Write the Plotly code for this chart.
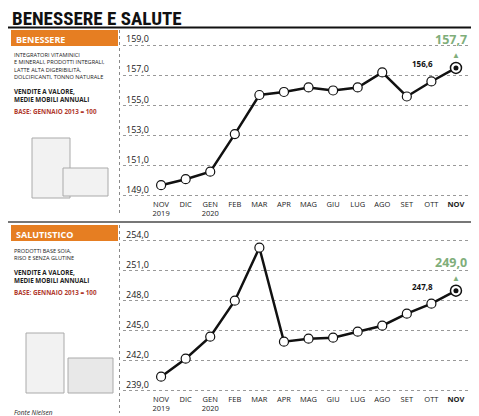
import plotly.graph_objects as go

months = ["NOV", "DIC", "GEN", "FEB", "MAR", "APR", "MAG", "GIU", "LUG", "AGO", "SET", "OTT", "NOV"]
tick_text = ["NOV<br>2019", "DIC", "GEN<br>2020", "FEB", "MAR", "APR", "MAG", "GIU", "LUG", "AGO", "SET", "OTT", "<b>NOV</b>"]
benessere = [149.7, 150.1, 150.6, 153.1, 155.7, 155.9, 156.2, 156.0, 156.2, 157.2, 155.6, 156.6, 157.5]
salutistico = [240.4, 242.2, 244.4, 248.0, 253.3, 243.9, 244.2, 244.3, 244.9, 245.5, 246.7, 247.7, 249.0]
ben_ticks = [149, 151, 153, 155, 157, 159]
sal_ticks = [239, 242, 245, 248, 251, 254]

H, W = 416, 479
def py(px): return 1 - px / H
def pxx(px): return px / W

x = list(range(len(months)))
fig = go.Figure()
for vals, ya in [(benessere, "y"), (salutistico, "y2")]:
    xa = "x" if ya == "y" else "x2"
    fig.add_trace(go.Scatter(x=x, y=vals, xaxis=xa, yaxis=ya, mode="lines+markers",
                             line=dict(color="#111", width=2.5),
                             marker=dict(size=9, color="white", line=dict(color="#111", width=1.2)),
                             hoverinfo="skip"))
    fig.add_trace(go.Scatter(x=[x[-1]], y=[vals[-1]], xaxis=xa, yaxis=ya, mode="markers",
                             marker=dict(size=11, color="white", line=dict(color="#111", width=1.5)),
                             hoverinfo="skip"))
    fig.add_trace(go.Scatter(x=[x[-1]], y=[vals[-1]], xaxis=xa, yaxis=ya, mode="markers",
                             marker=dict(size=5, color="#111"), hoverinfo="skip"))

xr = [-1.55, 13.1]
common_x = dict(range=xr, tickvals=x, ticktext=tick_text, showgrid=False, zeroline=False,
                tickfont=dict(family="Open Sans", size=7.5, color="#222"), ticks="", showline=False,
                fixedrange=True)
common_y = dict(showgrid=True, gridcolor="#999", griddash="dot", gridwidth=1, zeroline=False,
                showticklabels=False, showline=False, ticks="", fixedrange=True)
fig.update_layout(
    width=W, height=H, margin=dict(l=0, r=0, t=0, b=0), showlegend=False,
    paper_bgcolor="white", plot_bgcolor="white",
    xaxis=dict(domain=[pxx(115), pxx(475)], anchor="y", **common_x),
    yaxis=dict(domain=[py(190), py(30)], range=[148.85, 159.49], tickvals=ben_ticks, **common_y),
    xaxis2=dict(domain=[pxx(115), pxx(475)], anchor="y2", **common_x),
    yaxis2=dict(domain=[py(385), py(225)], range=[238.77, 254.77], tickvals=sal_ticks, **common_y),
)

ann = []
for t in ben_ticks:
    ann.append(dict(x=pxx(116), xref="paper", y=t, yref="y", text=f"{t},0",
                    showarrow=False, xanchor="left", yanchor="bottom", yshift=-2,
                    font=dict(family="Open Sans", size=9, color="#222")))
for t in sal_ticks:
    ann.append(dict(x=pxx(116), xref="paper", y=t, yref="y2", text=f"{t},0",
                    showarrow=False, xanchor="left", yanchor="bottom", yshift=-2,
                    font=dict(family="Open Sans", size=9, color="#222")))
ann += [
    dict(x=11, y=benessere[-1], xref="x", yref="y", text="<b>156,6</b>", showarrow=False,
         xanchor="right", yanchor="bottom", xshift=4, yshift=-3, font=dict(family="Open Sans", size=8, color="#111")),
    dict(x=12, y=benessere[-1], xref="x", yref="y", text="<b>157,7</b>", showarrow=False,
         yanchor="bottom", yshift=18, xshift=-5, font=dict(family="Open Sans", size=12.5, color="#7fae7a")),
    dict(x=12, y=benessere[-1], xref="x", yref="y", text="▲", showarrow=False,
         yanchor="bottom", yshift=6, font=dict(size=8, color="#7fae7a")),
    dict(x=11, y=salutistico[-1], xref="x2", yref="y2", text="<b>247,8</b>", showarrow=False,
         xanchor="right", yanchor="bottom", xshift=4, yshift=-3, font=dict(family="Open Sans", size=8, color="#111")),
    dict(x=12, y=salutistico[-1], xref="x2", yref="y2", text="<b>249,0</b>", showarrow=False,
         yanchor="bottom", yshift=18, xshift=-5, font=dict(family="Open Sans", size=12.5, color="#7fae7a")),
    dict(x=12, y=salutistico[-1], xref="x2", yref="y2", text="▲", showarrow=False,
         yanchor="bottom", yshift=6, font=dict(size=8, color="#7fae7a")),
]
def ptext(xp, ypix, text, size, color="#222", bold=False, fam="Open Sans"):
    if bold: text = f"<b>{text}</b>"
    return dict(x=pxx(xp), y=py(ypix), xref="paper", yref="paper", text=text, showarrow=False,
                xanchor="left", yanchor="top", align="left",
                font=dict(family=fam, size=size, color=color))
ann += [
    ptext(2, -3, "BENESSERE E SALUTE", 19, "#111", True, "Roboto Condensed, Liberation Sans Narrow, Roboto"),
    ptext(6, 23, "BENESSERE", 9, "white", True),
    ptext(4, 41, "INTEGRATORI VITAMINICI<br>E MINERALI, PRODOTTI INTEGRALI,<br>LATTE ALTA DIGERIBILITÀ,<br>DOLCIFICANTI, TONNO NATURALE", 5.6),
    ptext(4, 77, "<b>VENDITE A VALORE,<br>MEDIE MOBILI ANNUALI</b>", 6.3),
    ptext(4, 97, "<b>BASE: GENNAIO 2013 = 100</b>", 6.3, "#b03a2e"),
    ptext(6, 218, "SALUTISTICO", 9, "white", True),
    ptext(4, 237, "PRODOTTI BASE SOIA,<br>RISO E SENZA GLUTINE", 5.6),
    ptext(4, 258, "<b>VENDITE A VALORE,<br>MEDIE MOBILI ANNUALI</b>", 6.3),
    ptext(4, 278, "<b>BASE: GENNAIO 2013 = 100</b>", 6.3, "#b03a2e"),
    ptext(4, 398, "<i>Fonte Nielsen</i>", 6.5),
]
fig.update_layout(annotations=ann)

def rect(x0, y0, x1, y1, fill, line=None, w=0):
    return dict(type="rect", xref="paper", yref="paper", x0=pxx(x0), x1=pxx(x1), y0=py(y0), y1=py(y1),
                fillcolor=fill, line=dict(width=w, color=line or fill), layer="below")
shapes = [
    rect(3, 22, 110, 38, "#e67e22"),
    rect(3, 217, 110, 233, "#e67e22"),
    dict(type="line", xref="paper", yref="paper", x0=0, x1=pxx(477), y0=py(19.5), y1=py(19.5), line=dict(color="#111", width=2)),
    dict(type="line", xref="paper", yref="paper", x0=0, x1=pxx(477), y0=py(214), y1=py(214), line=dict(color="#777", width=2)),
    dict(type="line", xref="paper", yref="paper", x0=pxx(115), x1=pxx(477), y0=py(410), y1=py(410), line=dict(color="#777", width=2)),
    dict(type="line", xref="paper", yref="paper", x0=pxx(111.5), x1=pxx(111.5), y0=py(22), y1=py(205), line=dict(color="#888", width=1, dash="dot")),
    dict(type="line", xref="paper", yref="paper", x0=pxx(111.5), x1=pxx(111.5), y0=py(217), y1=py(405), line=dict(color="#888", width=1, dash="dot")),
    rect(24, 130, 62, 190, "#f2f2f2", "#aaa", 1),
    rect(55, 160, 100, 188, "#f2f2f2", "#aaa", 1),
    rect(18, 325, 56, 385, "#f2f2f2", "#aaa", 1),
    rect(60, 350, 105, 385, "#e8e8e8", "#aaa", 1),
]
fig.update_layout(shapes=shapes)
fig.write_html("out.html")
